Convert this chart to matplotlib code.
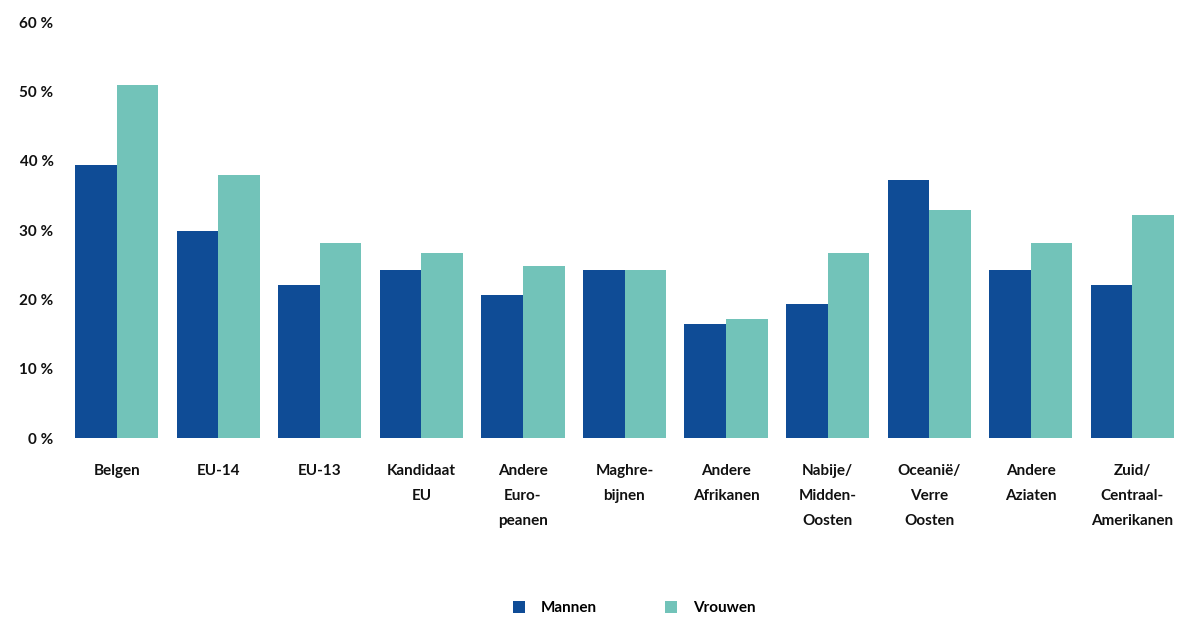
import matplotlib
matplotlib.use("Agg")
import matplotlib.pyplot as plt
import numpy as np

# categories and shares (%)
categories = ["Belgen", "EU-14", "EU-13", "Kandidaat\nEU", "Andere\nEuro-\npeanen",
              "Maghre-\nbijnen", "Andere\nAfrikanen", "Nabije/\nMidden-\nOosten",
              "Oceanië/\nVerre\nOosten", "Andere\nAziaten", "Zuid/\nCentraal-\nAmerikanen"]
mannen = [39.4, 29.8, 22.1, 24.2, 20.6, 24.2, 16.5, 19.3, 37.2, 24.2, 22.1]
vrouwen = [50.9, 37.9, 28.1, 26.7, 24.8, 24.2, 17.2, 26.7, 32.9, 28.1, 32.2]
yticks = [0, 10, 20, 30, 40, 50, 60]

plt.rcParams['font.family'] = ['Lato', 'DejaVu Sans']

fig = plt.figure(figsize=(11.96, 6.18), dpi=100)
ax = fig.add_axes([66 / 1196, 180 / 618, (1183 - 66) / 1196, (596 - 180) / 618])

x = np.arange(len(categories))
w = 0.41
ax.bar(x - w / 2, mannen, w, color='#0F4C96', label='Mannen')
ax.bar(x + w / 2, vrouwen, w, color='#72C3B9', label='Vrouwen')

ax.set_xlim(-0.5, len(categories) - 0.5)
ax.set_ylim(0, 60)
ax.set_yticks(yticks)
ax.set_yticklabels([f"{v} %" for v in yticks], fontsize=11, fontweight='bold')
ax.set_xticks(x)
ax.set_xticklabels(categories, fontsize=11, fontweight='bold', linespacing=2.0, va='top')
ax.tick_params(axis='both', length=0, colors='#111111')
ax.tick_params(axis='y', pad=9)
ax.tick_params(axis='x', pad=19)
for s in ax.spines.values():
    s.set_visible(False)

fig.legend(loc='center', bbox_to_anchor=(634 / 1196, 1 - 608 / 618), ncol=2, frameon=False,
           prop={'weight': 'bold', 'size': 11}, handlelength=0.8, handleheight=0.8,
           columnspacing=4.5, handletextpad=1)

fig.savefig("out.png", dpi=100)
